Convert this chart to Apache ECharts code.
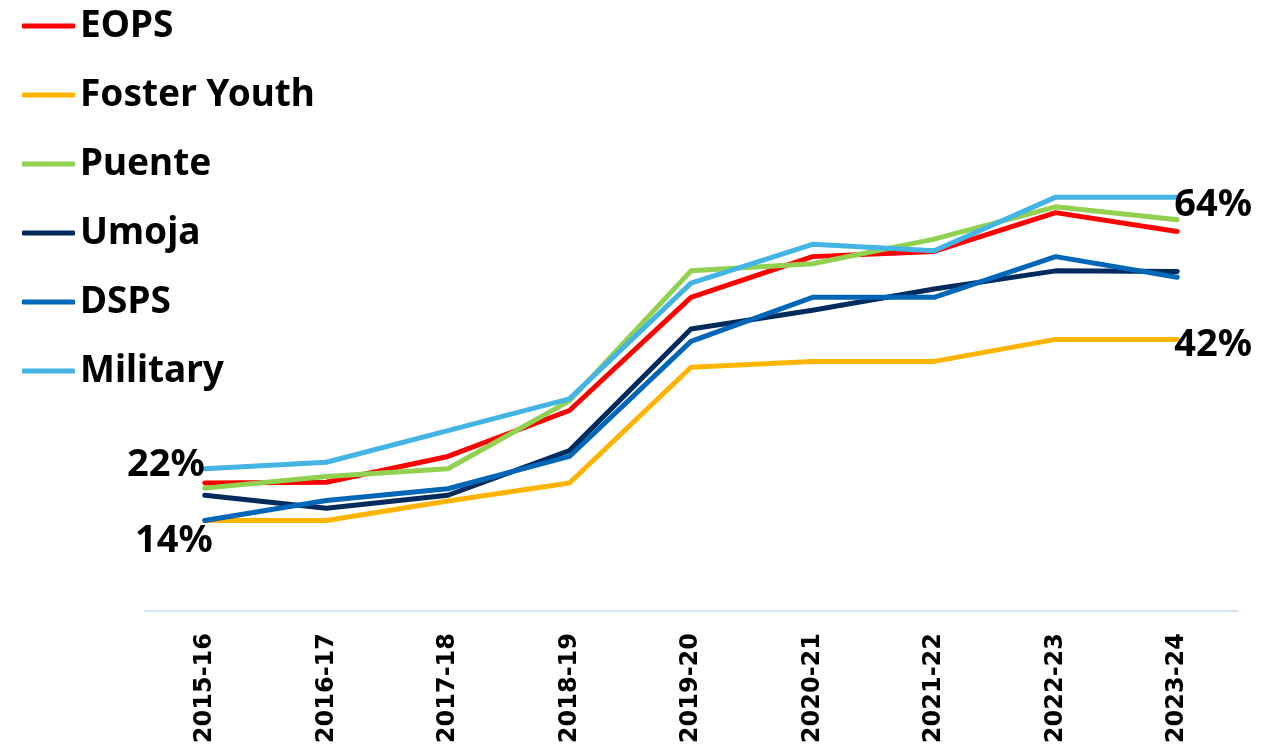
<!DOCTYPE html>
<html>
<head>
<meta charset="utf-8">
<style>
  html, body { margin: 0; padding: 0; background: #ffffff; }
  #chart { width: 1278px; height: 751px; }
</style>
<script src="https://cdn.jsdelivr.net/npm/echarts@6/dist/echarts.min.js"></script>
</head>
<body>
<div id="chart"></div>
<script>
const categories = ['2015-16','2016-17','2017-18','2018-19','2019-20','2020-21','2021-22','2022-23','2023-24'];
const eops     = [19.8, 19.9, 23.9, 31.0, 48.5, 54.8, 55.6, 61.6, 58.7];
const foster   = [14, 14, 17, 19.8, 37.7, 38.6, 38.6, 42, 42];
const puente   = [19, 20.8, 22, 32.5, 52.6, 53.7, 57.5, 62.5, 60.5];
const umoja    = [17.9, 15.9, 17.9, 24.8, 43.6, 46.5, 49.8, 52.6, 52.5];
const dsps     = [14, 17.1, 18.9, 23.9, 41.7, 48.5, 48.5, 54.8, 51.6];
const military = [22, 23, 27.9, 32.8, 50.7, 56.7, 55.7, 64, 64];

const seriesNames  = ['EOPS','Foster Youth','Puente','Umoja','DSPS','Military'];
const seriesValues = [eops, foster, puente, umoja, dsps, military];
const seriesColors = ['#ff0000','#ffb400','#92d050','#002b5c','#0066b8','#43b4e4'];

const labelFont = { fontFamily: 'Noto Sans', fontWeight: 'bold', fontSize: 38, color: '#000000' };
const fmt = p => Math.round(p.value) + '%';

// which points carry a value label: [seriesIndex, dataIndex, labelOpts]
const pointLabels = [
  [5, 0, { position: 'left', distance: 0, offset: [0, -4] }],
  [4, 0, { position: 'left', distance: 0, offset: [8, 21] }],
  [5, 8, { position: 'right', distance: 0, offset: [-3, 8] }],
  [1, 8, { position: 'right', distance: 0, offset: [-3, 6] }]
];

const series = seriesNames.map((name, si) => ({
  name: name,
  type: 'line',
  showSymbol: true,
  symbol: 'circle',
  symbolSize: 0.01,
  lineStyle: { width: 5, color: seriesColors[si], cap: 'round', join: 'round' },
  itemStyle: { color: seriesColors[si] },
  emphasis: { disabled: true },
  label: { show: false },
  data: seriesValues[si].map((v, di) => {
    const pl = pointLabels.find(l => l[0] === si && l[1] === di);
    if (!pl) return v;
    return { value: v, label: Object.assign({ show: true, formatter: fmt }, labelFont, pl[2]) };
  })
}));

const chart = echarts.init(document.getElementById('chart'), null, { renderer: 'canvas' });
chart.setOption({
  animation: false,
  backgroundColor: '#ffffff',
  grid: { left: 144, right: 40, top: 29, bottom: 140, containLabel: false },
  legend: {
    orient: 'vertical',
    left: 22,
    top: 6,
    padding: 0,
    itemGap: 29,
    itemWidth: 53,
    itemHeight: 5,
    icon: 'roundRect',
    data: seriesNames,
    textStyle: { fontFamily: 'Noto Sans', fontWeight: 'bold', fontSize: 37, lineHeight: 40, color: '#000000', padding: [0, 0, 0, 0] }
  },
  xAxis: {
    type: 'category',
    data: categories,
    boundaryGap: true,
    axisLine: { show: true, lineStyle: { color: '#c6dcf4', width: 1.5 } },
    axisTick: { show: false },
    splitLine: { show: false },
    axisLabel: { rotate: 90, margin: 22, fontFamily: 'DejaVu Sans', fontWeight: 'bold', fontSize: 24, color: '#000000', interval: 0 }
  },
  yAxis: { type: 'value', min: 0, max: 90, show: false, splitLine: { show: false } },
  series: series
});
</script>
</body>
</html>
